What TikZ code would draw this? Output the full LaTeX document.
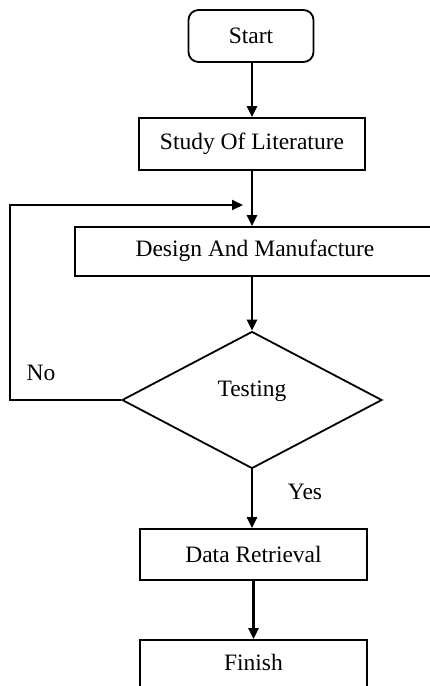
\documentclass[tikz,border=0pt]{standalone}
\usepackage{fontspec}
\setmainfont{Liberation Serif}
\usetikzlibrary{shapes.geometric,arrows.meta}
\begin{document}
\begin{tikzpicture}[x=1pt,y=-1pt,
  every node/.style={font=\fontsize{23.5}{27}\selectfont},
  boxnode/.style={draw,line width=1.8pt,rectangle,inner sep=0pt},
  flow/.style={line width=2.6pt,-{Triangle[length=11pt,width=10pt]}},
  back/.style={line width=1.8pt,-{Triangle[length=11pt,width=10pt]}},
  lbl/.style={inner sep=0pt}]
\useasboundingbox (0,0) rectangle (430,686);
\clip (0,0) rectangle (430,686);
\node[boxnode,rounded corners=10pt,minimum width=125pt,minimum height=52pt] (start) at (251,36) {Start};
\node[boxnode,minimum width=226pt,minimum height=52pt] (study) at (252,144) {Study Of Literature};
\node[boxnode,minimum width=395pt,minimum height=49pt] (design) at (272.5,251.5) {};
\node[lbl] (designtext) at (255,251) {Design And Manufacture};
\node[draw,diamond,line width=1.8pt,inner sep=0pt,minimum width=260pt,minimum height=137pt] (test) at (252,400) {};
\node[lbl] (testtext) at (252,391) {Testing};
\node[boxnode,minimum width=227pt,minimum height=51pt] (data) at (253.5,554.5) {Data Retrieval};
\node[boxnode,minimum width=227pt,minimum height=80pt] (finish) at (253.5,680) {};
\node[lbl] (finishtext) at (253.5,662) {Finish};
\node[lbl] (yes) at (305,492) {Yes};
\node[lbl] (no) at (41,373) {No};
\coordinate (loopA) at (10,400);
\coordinate (loopB) at (10,205);
\coordinate (loopC) at (243,205);
\draw[flow] (start.south -| study.north) -- (study.north);
\draw[flow] (study.south) -- (study.south |- design.north);
\draw[flow] (study.south |- design.south) -- (test.north);
\draw[flow] (test.south) -- (test.south |- data.north);
\draw[flow] (data.south) -- (data.south |- finish.north);
\draw[back] (test.west) -- (loopA) -- (loopB) -- (loopC);
\end{tikzpicture}
\end{document}
